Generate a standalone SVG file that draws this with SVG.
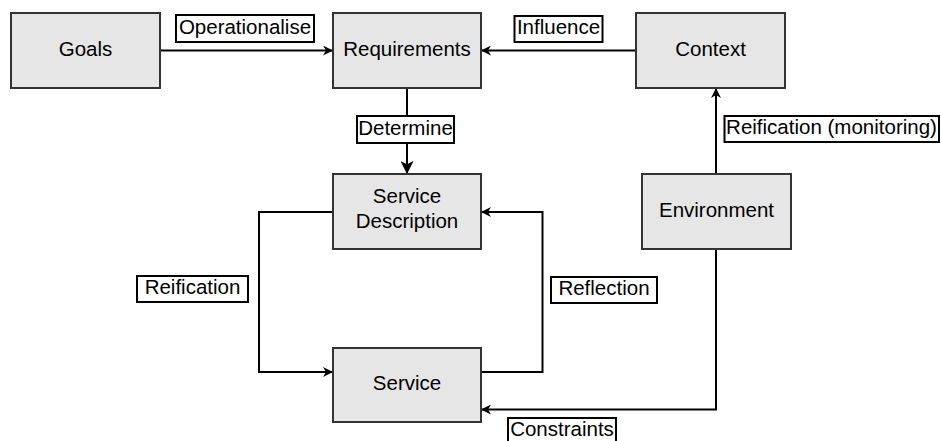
<svg xmlns="http://www.w3.org/2000/svg" width="941" height="441" viewBox="0 0 941 441">
  <style>
    .node rect { fill: #e6e6e6; stroke: #333333; stroke-width: 2; }
    .node text { font-family: "Liberation Sans", Arial, sans-serif; font-size: 20.5px; fill: #000000; text-anchor: middle; }
    .edge { fill: none; stroke: #000000; stroke-width: 2; }
    .label rect { fill: #ffffff; stroke: #000000; stroke-width: 2; }
    .label text { font-family: "Liberation Sans", Arial, sans-serif; font-size: 20.5px; fill: #000000; text-anchor: middle; }
  </style>
  <defs>
    <marker id="arrow" viewBox="0 0 10 10" refX="9" refY="5" markerWidth="10" markerHeight="10" markerUnits="userSpaceOnUse" orient="auto">
      <path d="M0,0 L10,5 L0,10 L3,5 Z" fill="#000000"/>
    </marker>
    <marker id="arrowBig" viewBox="0 0 12 12" refX="11" refY="6" markerWidth="13" markerHeight="13" markerUnits="userSpaceOnUse" orient="auto">
      <path d="M0,0 L12,6 L0,12 L3,6 Z" fill="#000000"/>
    </marker>
  </defs>

  <g id="connectors">
    <path class="edge" d="M160,50.5 H332" marker-end="url(#arrow)"/>
    <path class="edge" d="M636,50.5 H482" marker-end="url(#arrow)"/>
    <path class="edge" d="M407,88 V173" marker-end="url(#arrowBig)"/>
    <path class="edge" d="M716,174 V89" marker-end="url(#arrow)"/>
    <path class="edge" d="M333,212 H259 V372 H332" marker-end="url(#arrow)"/>
    <path class="edge" d="M481,372 H542.5 V212 H482" marker-end="url(#arrow)"/>
    <path class="edge" d="M716,249 V409.5 H482" marker-end="url(#arrow)"/>

    <g class="label">
      <rect x="176" y="15" width="138" height="27"/>
      <text x="245" y="33.5">Operationalise</text>
    </g>
    <g class="label">
      <rect x="514.5" y="16" width="88" height="26"/>
      <text x="558.5" y="34">Influence</text>
    </g>
    <g class="label">
      <rect x="357" y="116" width="97" height="27"/>
      <text x="405.5" y="134.5">Determine</text>
    </g>
    <g class="label">
      <rect x="724.5" y="116" width="214.5" height="26"/>
      <text x="831.5" y="134">Reification (monitoring)</text>
    </g>
    <g class="label">
      <rect x="137" y="276" width="111" height="26"/>
      <text x="192.5" y="294">Reification</text>
    </g>
    <g class="label">
      <rect x="551" y="277" width="106" height="26"/>
      <text x="604" y="295">Reflection</text>
    </g>
    <g class="label">
      <rect x="508" y="418" width="108" height="27"/>
      <text x="562" y="436">Constraints</text>
    </g>
  </g>

  <g id="goals" class="node">
    <rect x="11" y="13" width="149" height="75"/>
    <text x="85.5" y="55.5">Goals</text>
  </g>
  <g id="requirements" class="node">
    <rect x="333" y="13" width="148" height="75"/>
    <text x="407" y="55.5">Requirements</text>
  </g>
  <g id="context" class="node">
    <rect x="636" y="13" width="149" height="75"/>
    <text x="710.5" y="55.5">Context</text>
  </g>
  <g id="service-description" class="node">
    <rect x="333" y="174" width="148" height="75"/>
    <text x="407" y="203">Service</text>
    <text x="407" y="228">Description</text>
  </g>
  <g id="environment" class="node">
    <rect x="642" y="174" width="149" height="75"/>
    <text x="716.5" y="217">Environment</text>
  </g>
  <g id="service" class="node">
    <rect x="333" y="348" width="148" height="74"/>
    <text x="407" y="389.5">Service</text>
  </g>
</svg>
